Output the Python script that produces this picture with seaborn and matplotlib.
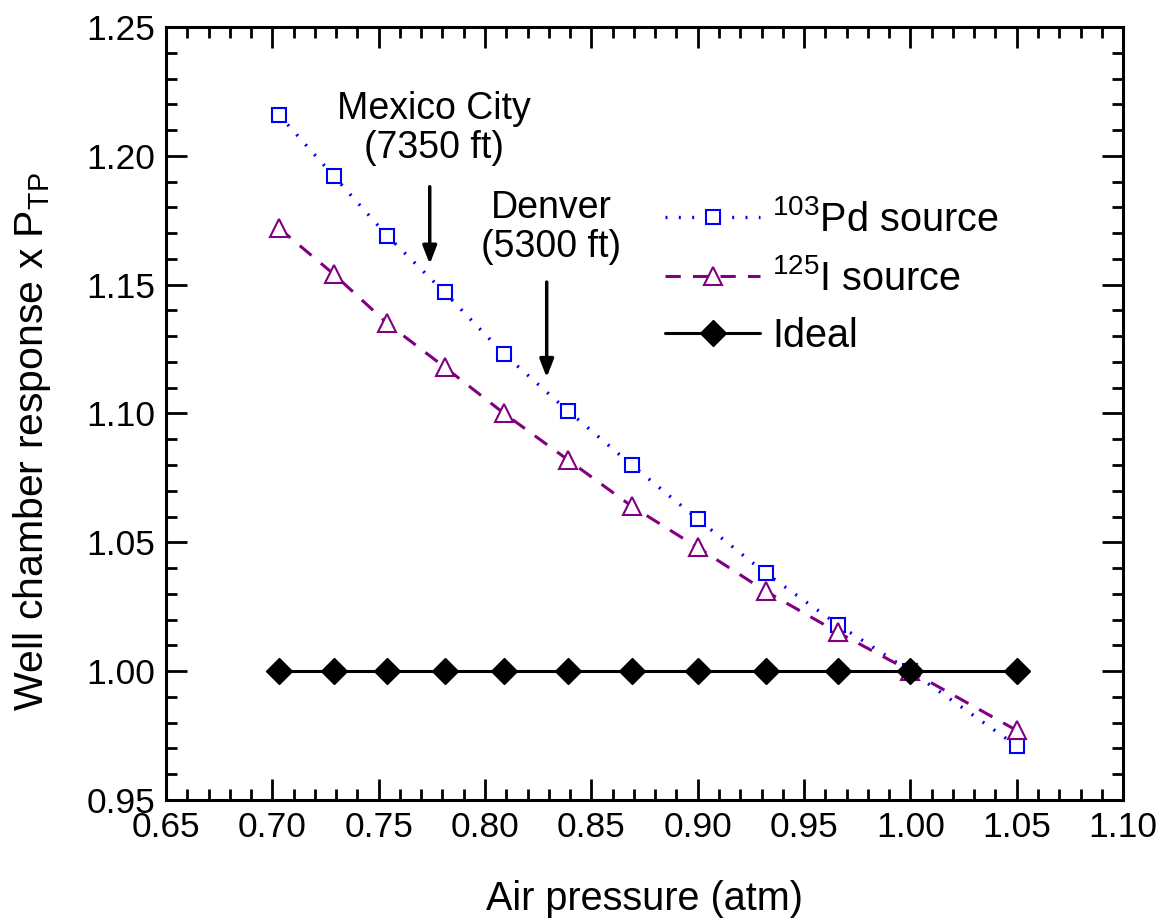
import matplotlib
matplotlib.use("Agg")
import matplotlib.pyplot as plt
from matplotlib.ticker import MultipleLocator, FormatStrFormatter
import seaborn as sns
import pandas as pd

# Air pressure (atm) and normalised well-chamber response
pressure = [0.703, 0.729, 0.754, 0.781, 0.809, 0.839, 0.869, 0.900, 0.932, 0.966, 1.000, 1.050]
pd103 = [1.216, 1.192, 1.169, 1.147, 1.123, 1.101, 1.080, 1.059, 1.038, 1.018, 1.000, 0.971]
i125 = [1.172, 1.154, 1.135, 1.118, 1.100, 1.082, 1.064, 1.048, 1.031, 1.015, 1.000, 0.977]
ideal = [1.000] * len(pressure)

series_labels = [r"$^{\mathregular{103}}$Pd source", r"$^{\mathregular{125}}$I source", "Ideal"]

# City annotations: label, x, arrow top, arrow tip, label centre
cities = ["Mexico City\n(7350 ft)", "Denver\n(5300 ft)"]
city_x = [0.774, 0.829]
arrow_top = [1.188, 1.151]
arrow_tip = [1.158, 1.114]
label_y = [1.2105, 1.1722]

sns.set_theme(style="ticks")
plt.rcParams["font.family"] = ["Liberation Sans", "DejaVu Sans"]
plt.rcParams["mathtext.fontset"] = "custom"
plt.rcParams["mathtext.rm"] = "Liberation Sans"
plt.rcParams["mathtext.it"] = "Liberation Sans:italic"
for key in ["text.color", "axes.labelcolor", "xtick.color", "ytick.color", "axes.edgecolor"]:
    plt.rcParams[key] = "black"

fig = plt.figure(figsize=(11.65, 9.21), dpi=100)
ax = fig.add_axes([0.1425, 0.1314, 0.8215, 0.8393])

df = pd.DataFrame({"x": pressure, "pd": pd103, "i": i125, "ideal": ideal})

sns.lineplot(data=df, x="x", y="pd", ax=ax, color="#0000FF", linestyle=(0, (0.6, 3.4)),
             linewidth=2.4, marker="s", markersize=10, markerfacecolor="white",
             markeredgecolor="#0000FF", markeredgewidth=1.5, sort=False,
             estimator=None, label=series_labels[0])
sns.lineplot(data=df, x="x", y="i", ax=ax, color="#800080", linestyle=(0, (5, 4)),
             linewidth=2.2, marker="^", markersize=13, markerfacecolor="white",
             markeredgecolor="#800080", markeredgewidth=1.5, sort=False,
             estimator=None, label=series_labels[1])
sns.lineplot(data=df, x="x", y="ideal", ax=ax, color="black", linestyle="-",
             linewidth=2.2, marker="D", markersize=13, markerfacecolor="black",
             markeredgecolor="black", markeredgewidth=1, sort=False,
             estimator=None, label=series_labels[2])

for name, cx, top, tip, ly in zip(cities, city_x, arrow_top, arrow_tip, label_y):
    ax.annotate("", xy=(cx, tip), xytext=(cx, top),
                arrowprops=dict(arrowstyle="-|>,head_length=0.9,head_width=0.35",
                                color="black", lw=2.5, shrinkA=0, shrinkB=0))
    ax.text(cx + 0.002, ly, name, ha="center", va="center", fontsize=27,
            linespacing=1.12, color="black")

ax.set_xlim(0.65, 1.10)
ax.set_ylim(0.95, 1.25)
ax.xaxis.set_major_locator(MultipleLocator(0.05))
ax.xaxis.set_minor_locator(MultipleLocator(0.01))
ax.yaxis.set_major_locator(MultipleLocator(0.05))
ax.yaxis.set_minor_locator(MultipleLocator(0.01))
ax.xaxis.set_major_formatter(FormatStrFormatter("%.2f"))
ax.yaxis.set_major_formatter(FormatStrFormatter("%.2f"))

ax.tick_params(which="both", direction="in", top=True, right=True, width=2, colors="black")
ax.tick_params(which="major", length=15, labelsize=25.5, pad=8)
ax.tick_params(which="minor", length=8)
for side in ax.spines.values():
    side.set_linewidth(2.2)
    side.set_color("black")
    side.set_visible(True)

ax.set_xlabel("Air pressure (atm)", fontsize=28.5, labelpad=26)
ax.set_ylabel(r"Well chamber response x P$_{\mathregular{TP}}$", fontsize=29.5)
ax.yaxis.set_label_coords(-0.118, 0.464)

leg = ax.legend(loc="upper left", bbox_to_anchor=(0.505, 0.797), frameon=False,
                fontsize=28.5, handlelength=2.4, handletextpad=0.3, labelspacing=0.5,
                borderaxespad=0)

fig.savefig("out.png", dpi=100, facecolor="white")
